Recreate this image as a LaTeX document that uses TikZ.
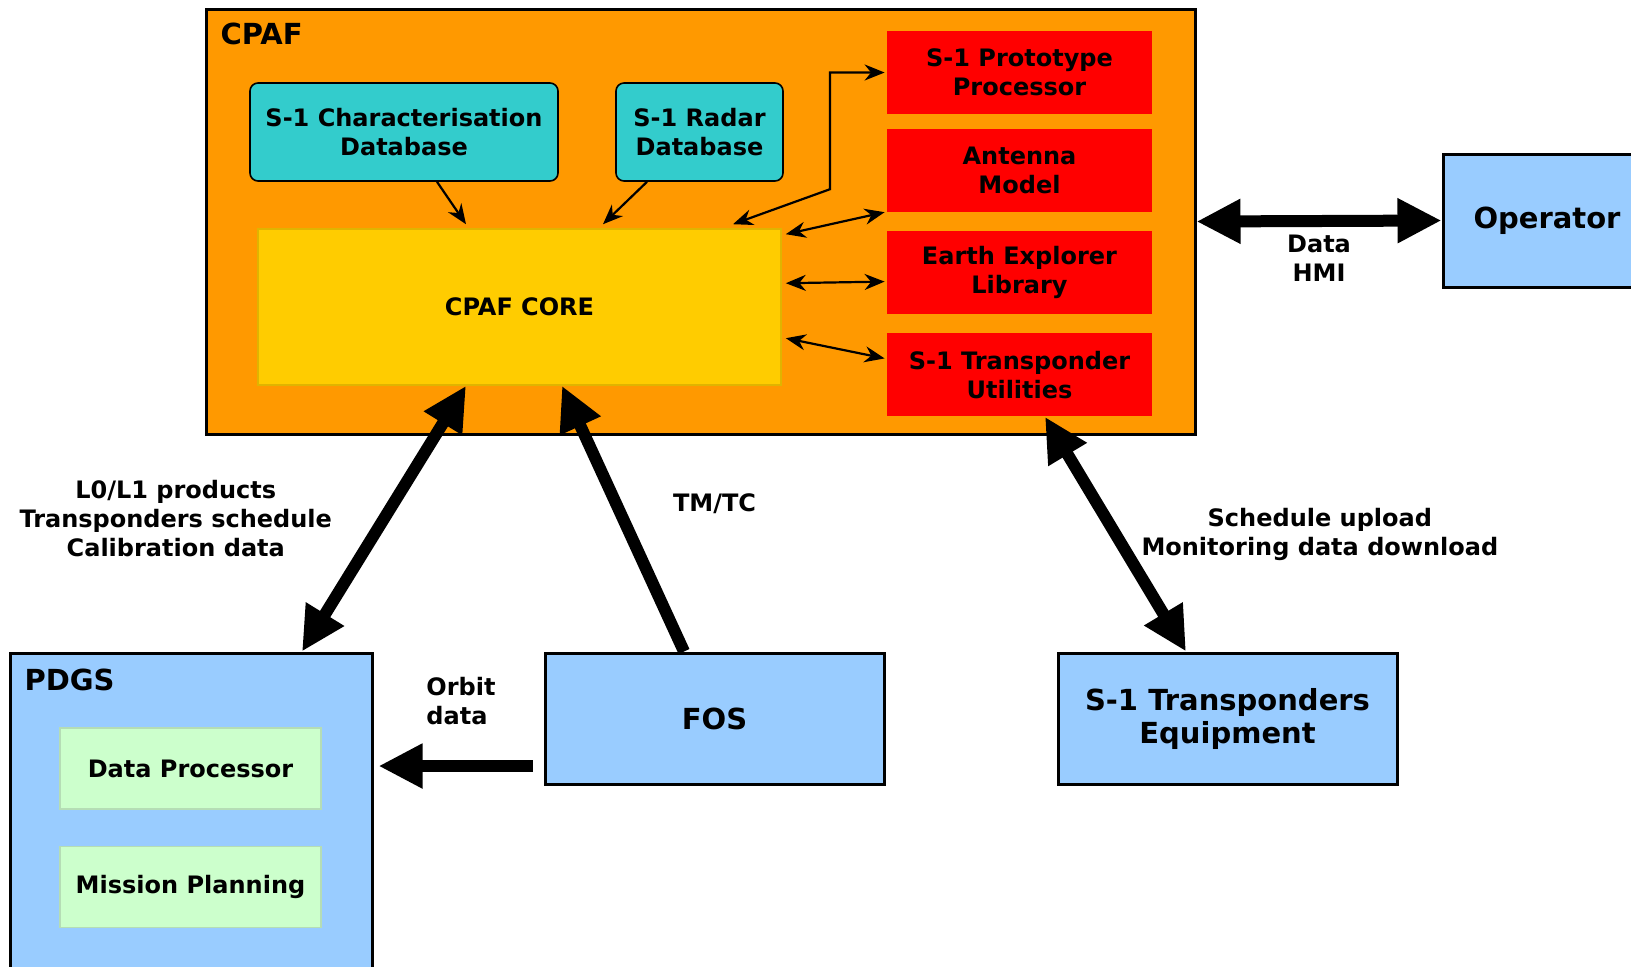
\documentclass[tikz,border=0pt]{standalone}
\usepackage{fontspec}
\setmainfont{DejaVu Sans}
\usepackage{tikz}
\usetikzlibrary{arrows.meta,positioning,calc}
\definecolor{cpafor}{HTML}{FF9900}
\definecolor{coreyl}{HTML}{FFCC00}
\definecolor{coreedge}{HTML}{E0B400}
\definecolor{dbcyan}{HTML}{33CCCC}
\definecolor{toolred}{HTML}{FF0000}
\definecolor{sky}{HTML}{99CCFF}
\definecolor{mint}{HTML}{CCFFCC}
\definecolor{mintedge}{HTML}{B5DDB5}
\tikzset{
  txt/.style={font=\bfseries\fontsize{12}{14.5}\selectfont},
  ttl/.style={font=\bfseries\fontsize{14.5}{16.5}\selectfont},
  cpafbox/.style={draw=black,line width=1.5pt,fill=cpafor},
  corebox/.style={txt,draw=coreedge,line width=0.8pt,fill=coreyl,minimum width=261.5pt,minimum height=78pt},
  db/.style={txt,draw=black,line width=0.8pt,rounded corners=4pt,fill=dbcyan,align=center,minimum height=49pt},
  lib/.style={txt,fill=toolred,align=center,minimum width=132.5pt,minimum height=41.5pt},
  sysbox/.style={ttl,draw=black,line width=1.5pt,fill=sky,align=center},
  sub/.style={txt,draw=mintedge,line width=0.8pt,fill=mint,minimum width=130.5pt,minimum height=40.5pt},
  big/.style={line width=6pt,-{Triangle[length=22pt,width=21pt]}},
  bigboth/.style={line width=6pt,{Triangle[length=22pt,width=21pt]}-{Triangle[length=22pt,width=21pt]}},
  link/.style={line width=1.1pt,-{Stealth[length=10pt,width=8pt]}},
  linkboth/.style={line width=1.1pt,{Stealth[length=10pt,width=8pt]}-{Stealth[length=10pt,width=8pt]}},
  lbl/.style={txt,align=center,inner sep=1pt}
}
\begin{document}
\begin{tikzpicture}[x=0.5pt,y=-0.5pt]
  \useasboundingbox[fill=white] (0,0) rectangle (1631,966);
  \node[cpafbox,minimum width=494.5pt,minimum height=212.5pt] (cpaf) at (700.5,221.5) {};
  \node[ttl,anchor=west] (cpaft) at ([xshift=4.5pt,yshift=-13pt]cpaf.north west) {CPAF};
  \node[db,minimum width=154pt] (chardb) at (404,132) {S-1 Characterisation\\Database};
  \node[db,minimum width=83.5pt] (radardb) at (699.5,132) {S-1 Radar\\Database};
  \node[corebox] (core) at (519.5,307) {CPAF CORE};
  \node[lib] (proto) at (1019.5,72.5) {S-1 Prototype\\Processor};
  \node[lib,below=7pt of proto] (ant) {Antenna\\Model};
  \node[lib,below=9pt of ant] (ee) {Earth Explorer\\Library};
  \node[lib,below=9.5pt of ee] (tu) {S-1 Transponder\\Utilities};
  \node[sysbox,minimum width=104pt,minimum height=66.5pt] (op) at (1547,220.5) {Operator};
  \node[sysbox,minimum width=181pt,minimum height=170pt] (pdgs) at (191,823) {};
  \node[ttl,anchor=west] (pdgst) at ([xshift=4.5pt,yshift=-14pt]pdgs.north west) {PDGS};
  \node[sub] (dp) at (190.5,768.5) {Data Processor};
  \node[sub,below=18pt of dp] (mp) {Mission Planning};
  \node[sysbox,minimum width=169.5pt,minimum height=65.5pt] (fos) at (714.5,718.5) {FOS};
  \node[sysbox,minimum width=169.5pt,minimum height=65.5pt] (trx) at (1227.5,718.5) {S-1 Transponders\\Equipment};

  \draw[link] ([xshift=16.5pt]chardb.south) -- ([xshift=-26.75pt,yshift=2pt]core.north);
  \draw[link] ([xshift=-26.25pt]radardb.south) -- ([xshift=41.75pt,yshift=2pt]core.north);
  \draw[linkboth] ([xshift=106.75pt,yshift=2pt]core.north) -- ++(97,-35) |- ([xshift=-1pt]proto.west);
  \draw[linkboth] ([xshift=2pt,yshift=-3pt]core.north east) -- ([xshift=-1pt]ant.south west);
  \draw[linkboth] ([xshift=2pt,yshift=-27.5pt]core.north east) -- ([xshift=-1pt,yshift=-4.75pt]ee.west);
  \draw[linkboth] ([xshift=2pt,yshift=-55pt]core.north east) -- ([xshift=-1pt,yshift=8.25pt]tu.west);

  \draw[bigboth] ([xshift=55.5pt]pdgs.north) -- ([xshift=-26.75pt]core.south)
    node[lbl,midway,left=22pt] {L0/L1 products\\Transponders schedule\\Calibration data};
  \draw[big] ([xshift=-15.25pt]fos.north) -- ([xshift=21.25pt]core.south)
    node[lbl,midway,right=21pt,yshift=7.5pt] {TM/TC};
  \draw[bigboth] ([xshift=-20.75pt]trx.north) -- ([xshift=12.75pt]tu.south)
    node[lbl,midway,right=9pt] {Schedule upload\\Monitoring data download};
  \draw[bigboth] (cpaf.east) -- (op.west) node[lbl,midway,below=3pt] {Data\\HMI};
  \coordinate (orb) at ([xshift=-5.5pt,yshift=-23.75pt]fos.west);
  \draw[big,shorten >=2.5pt] (orb) -- (orb -| pdgs.east)
    node[lbl,midway,above=16.5pt,xshift=4pt,align=left] {Orbit\\data};
\end{tikzpicture}
\end{document}
